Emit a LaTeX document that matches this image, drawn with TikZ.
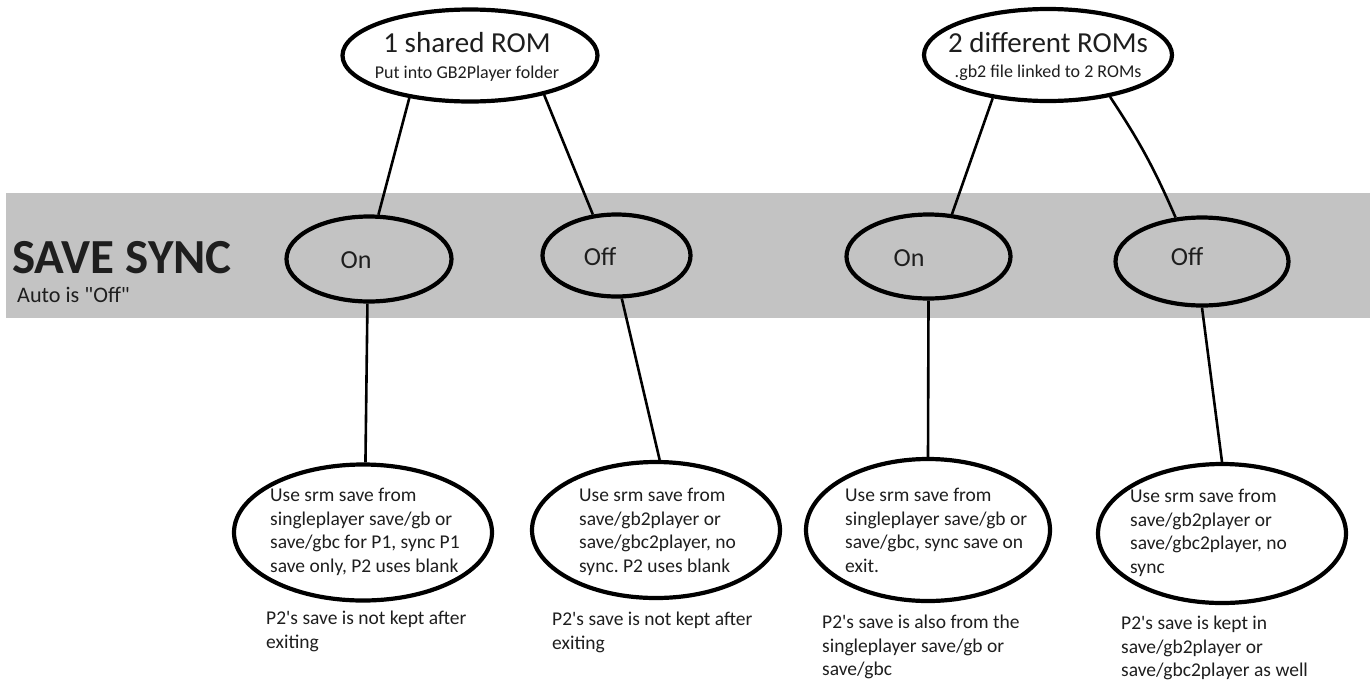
\documentclass[tikz,border=0pt]{standalone}
\usepackage{fontspec}
\setmainfont{Carlito}[Ligatures=TeXOff]
\usetikzlibrary{positioning,shapes.geometric}
\definecolor{bandgray}{HTML}{C3C3C3}
\definecolor{ink}{HTML}{1E1E1E}
\frenchspacing
\begin{document}
\begin{tikzpicture}[x=1pt,y=-1pt]
    \tikzset{
        oval/.style args={#1 by #2}{draw=black,line width=4.2pt,ellipse,inner sep=0pt,minimum width=#1,minimum height=#2},
        wire/.style={line width=2.6pt,black},
        txt/.style={text=ink,inner sep=0pt,font=\fontsize{19.5}{23.5}\selectfont},
        note/.style={txt,align=left,anchor=north west},
        onoff/.style={txt,anchor=base,font=\fontsize{26}{26}\selectfont},}
    \useasboundingbox (0,0) rectangle (1370,686);
    \fill[bandgray] (6,193) rectangle (1370,318);
    \node[txt,anchor=base west,font=\bfseries\fontsize{49}{49}\selectfont] (sync) at (12,273) {SAVE SYNC};
    \node[txt,anchor=base west,font=\fontsize{22.2}{23}\selectfont] (auto) at (17,302) {Auto is "Off"};
    % roms
    \node[oval=255 by 92] (rom1) at (470,55.5) {};
    \node[oval=248 by 92] (rom2) at (1048,55) {};
    \node[txt,align=center,font=\fontsize{18}{26}\selectfont] (rom1t) at (467,57) {{\fontsize{29}{26}\selectfont 1 shared ROM}\\Put into GB2Player folder};
    \node[txt,align=center,font=\fontsize{18}{25}\selectfont] (rom2t) at (1048,56) {{\fontsize{29}{25}\selectfont 2 different ROMs}\\.gb2 file linked to 2 ROMs};
    % on / off
    \node[oval=165 by 85] (on1) at (369,259) {};
    \node[oval=148 by 82] (off1) at (616.5,255.5) {};
    \node[oval=164 by 84] (on2) at (928.5,256.5) {};
    \node[oval=173 by 88] (off2) at (1202,261.5) {};
    \node[onoff] (on1t) at (356,268) {On};
    \node[onoff] (off1t) at (600,265) {Off};
    \node[onoff] (on2t) at (909,266) {On};
    \node[onoff] (off2t) at (1187,265) {Off};
    % saves
    \node[oval=258 by 136] (use1) at (363,532.5) {};
    \node[oval=248 by 136] (use2) at (656,530) {};
    \node[oval=244 by 142] (use3) at (928,530) {};
    \node[oval=248 by 139] (use4) at (1222,533.5) {};
    \node[note] (use1t) at (270,488) {Use srm save from\\singleplayer save/gb or\\save/gbc for P1, sync P1\\save only, P2 uses blank};
    \node[note] (use2t) at (579,488) {Use srm save from\\save/gb2player or\\save/gbc2player, no\\sync. P2 uses blank};
    \node[note] (use3t) at (845,488) {Use srm save from\\singleplayer save/gb or\\save/gbc, sync save on\\exit.};
    \node[note] (use4t) at (1130,489) {Use srm save from\\save/gb2player or\\save/gbc2player, no\\sync};
    \node[note] (keep1) at (266,611) {P2's save is not kept after\\exiting};
    \node[note] (keep2) at (552,612) {P2's save is not kept after\\exiting};
    \node[note] (keep3) at (822,615) {P2's save is also from the\\singleplayer save/gb or\\save/gbc};
    \node[note] (keep4) at (1121,616) {P2's save is kept in\\save/gb2player or\\save/gbc2player as well};
    \draw[wire] (rom1.215) -- (on1.78);
    \draw[wire] (rom1.-28) -- (off1.120);
    \draw[wire] (rom2.218) -- (on2.61);
    \draw[wire] (rom2.-34) to[bend left=5] (off2.121);
    \draw[wire] (on1.268) -- (use1.88);
    \draw[wire] (off1.-83) -- (use2.87);
    \draw[wire] (on2.270) -- (use3.90);
    \draw[wire] (off2.270) -- (use4.90);
\end{tikzpicture}
\end{document}
